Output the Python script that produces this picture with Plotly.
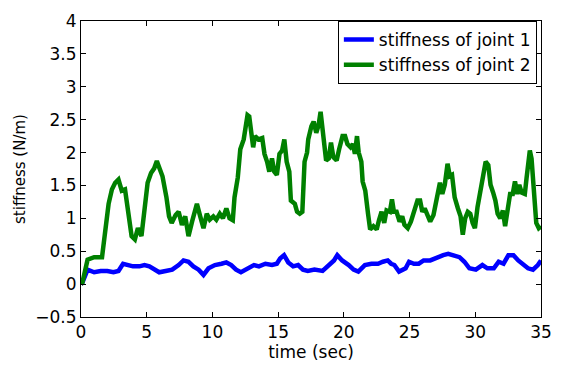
import plotly.graph_objects as go

# joint 1 stiffness (blue)
t1 = [0.0, 0.1, 0.5, 1.0, 1.5, 2.0, 2.47, 2.85, 3.2, 3.6, 3.96, 4.45, 4.83, 5.2, 5.57, 5.95,
      6.44, 6.94, 7.43, 7.8, 8.18, 8.55, 8.95, 9.32, 9.7, 10.19, 10.69, 11.06, 11.43, 11.8,
      12.17, 12.67, 13.16, 13.54, 14.03, 14.53, 14.9, 15.15, 15.45, 15.77, 16.14, 16.52,
      16.89, 17.26, 17.76, 18.38, 18.88, 19.25, 19.5, 19.87, 20.37, 20.74, 21.1, 21.6, 22.1,
      22.6, 22.97, 23.34, 23.6, 23.84, 24.2, 24.7, 24.96, 25.33, 25.7, 26.07, 26.57, 27.07,
      27.56, 27.94, 28.43, 28.8, 29.17, 29.55, 30.04, 30.54, 30.92, 31.41, 31.78, 32.15,
      32.52, 32.9, 33.27, 33.64, 34.01, 34.39, 34.76, 35.0]
k1 = [0.0, 0.02, 0.22, 0.18, 0.2, 0.2, 0.18, 0.2, 0.31, 0.29, 0.27, 0.27, 0.29, 0.27, 0.22, 0.18,
      0.2, 0.22, 0.29, 0.36, 0.34, 0.27, 0.22, 0.14, 0.24, 0.29, 0.31, 0.33, 0.29, 0.22,
      0.18, 0.24, 0.29, 0.27, 0.31, 0.29, 0.31, 0.39, 0.44, 0.33, 0.27, 0.29,
      0.22, 0.2, 0.22, 0.2, 0.29, 0.36, 0.44, 0.36, 0.29, 0.22, 0.19, 0.29, 0.31,
      0.31, 0.34, 0.36, 0.31, 0.29, 0.19, 0.24, 0.34, 0.31, 0.31, 0.36, 0.36, 0.41,
      0.44, 0.46, 0.44, 0.41, 0.34, 0.24, 0.22, 0.29, 0.24, 0.24, 0.34, 0.31,
      0.44, 0.44, 0.36, 0.31, 0.24, 0.22, 0.29, 0.36]

# joint 2 stiffness (green)
t2 = [0.0, 0.1, 0.5, 1.0, 1.6, 1.8, 2.1, 2.35, 2.6, 2.85, 3.1, 3.35, 3.6, 3.85, 4.1, 4.33, 4.6,
      4.83, 5.07, 5.33, 5.57, 5.77, 6.07, 6.2, 6.5, 6.7, 6.9, 7.2, 7.43, 7.68, 7.93, 8.18,
      8.45, 8.82, 9.07, 9.32, 9.57, 9.8, 10.07, 10.3, 10.56, 10.8, 11.06, 11.3, 11.55,
      11.68, 11.93, 12.12, 12.38, 12.55, 12.67, 12.8, 12.92, 13.1, 13.24, 13.49, 13.79,
      13.96, 14.16, 14.33, 14.53, 14.7, 14.9, 15.1, 15.3, 15.47, 15.65, 15.85, 15.97,
      16.27, 16.44, 16.64, 16.84, 16.89, 17.01, 17.2, 17.29, 17.53, 17.7, 17.9, 18.08,
      18.23, 18.4, 18.53, 18.65, 18.85, 19.02, 19.2, 19.45, 19.64, 19.9, 20.09, 20.27,
      20.51, 20.69, 20.84, 21.0, 21.13, 21.33, 21.43, 21.63, 21.84, 22.0, 22.25, 22.5,
      22.67, 22.87, 23.07, 23.25, 23.5, 23.66, 23.81, 24.01, 24.24, 24.44, 24.61, 24.86,
      25.1, 25.35, 25.6, 25.8, 25.97, 26.15, 26.32, 26.57, 26.82, 27.07, 27.31, 27.49,
      27.68, 27.89, 28.06, 28.23, 28.43, 28.68, 28.88, 29.05, 29.23, 29.43, 29.62, 29.8,
      29.97, 30.17, 30.42, 30.62, 30.79, 30.99, 31.16, 31.36, 31.53, 31.7, 31.9, 32.1,
      32.27, 32.44, 32.65, 32.85, 33.02, 33.2, 33.35, 33.53, 33.77, 33.9, 34.0, 34.15,
      34.28, 34.46, 34.64, 34.83, 35.0]
k2 = [0.0, 0.02, 0.37, 0.41, 0.41, 0.78, 1.22, 1.44, 1.54, 1.59, 1.42, 1.44, 1.12, 0.73, 0.68, 0.85, 0.73,
      1.17, 1.54, 1.69, 1.76, 1.87, 1.71, 1.64, 1.32, 1.03, 0.93, 1.05, 1.1, 0.9, 1.03, 0.73,
      0.95, 1.22, 1.03, 0.85, 1.07, 0.98, 1.03, 0.98, 1.07, 1.0, 1.15, 1.0, 0.97,
      1.32, 1.62, 2.05, 2.2, 2.37, 2.57, 2.55, 2.35, 2.08, 2.25, 2.2, 2.22,
      1.98, 1.86, 1.71, 1.91, 1.71, 1.66, 1.98, 2.03, 2.2, 1.86, 1.71, 1.27,
      1.22, 1.1, 1.07, 1.1, 1.47, 1.86, 2.0, 2.2, 2.4, 2.47, 2.3, 2.42,
      2.62, 2.35, 2.2, 1.88, 1.91, 2.15, 1.93, 1.88, 2.05, 2.25, 2.25, 2.13,
      2.08, 2.13, 1.98, 2.25, 2.0, 1.86, 1.56, 1.42, 1.07, 0.83, 0.88, 0.83,
      0.97, 1.1, 0.93, 1.12, 1.1, 1.29, 1.1, 1.1, 0.95, 1.03, 0.9, 0.85,
      0.95, 1.12, 1.27, 1.27, 1.1, 1.15, 1.05, 0.95, 1.05, 1.27, 1.54, 1.37,
      1.51, 1.83, 1.64, 1.66, 1.32, 1.15, 1.03, 0.75, 1.0, 1.1, 1.07, 0.93,
      0.85, 1.17, 1.42, 1.64, 1.86, 1.81, 1.51, 1.39, 1.27, 1.07, 1.0, 1.12,
      0.88, 1.1, 1.37, 1.37, 1.56, 1.37, 1.51, 1.39, 1.37, 1.61, 1.76, 2.03,
      1.91, 1.42, 0.93, 0.85, 0.88]

x_ticks = [0, 5, 10, 15, 20, 25, 30, 35]
y_ticks = [-0.5, 0, 0.5, 1, 1.5, 2, 2.5, 3, 3.5, 4]

fig = go.Figure()
fig.add_trace(go.Scatter(x=t1, y=k1, mode="lines", name="stiffness of joint 1",
                         line=dict(color="#0000ff", width=4.5)))
fig.add_trace(go.Scatter(x=t2, y=k2, mode="lines", name="stiffness of joint 2",
                         line=dict(color="#008000", width=4.5)))

FONT = "DejaVu Sans, Liberation Sans, Arial, sans-serif"
axis_common = dict(showline=True, linecolor="black", linewidth=1, mirror="ticks",
                   ticks="inside", ticklen=5, tickcolor="black", showgrid=False,
                   zeroline=False, tickfont=dict(size=17, color="black"))

fig.update_layout(
    width=563, height=365,
    margin=dict(l=81, r=12, t=11, b=48),
    paper_bgcolor="white", plot_bgcolor="white",
    font=dict(family=FONT, color="black"),
    xaxis=dict(range=[0, 35], tickvals=x_ticks,
               title=dict(text="time (sec)", font=dict(size=17), standoff=0),
               **axis_common),
    yaxis=dict(range=[-0.5, 4], tickvals=y_ticks,
               ticktext=[("\u22120.5" if v == -0.5 else f"{v:g}") for v in y_ticks],
               title=dict(text="stiffness (N/m)", font=dict(size=15), standoff=6),
               **axis_common),
    legend=dict(x=0.991, y=1.0, xanchor="right", yanchor="top",
                bgcolor="white", bordercolor="black", borderwidth=1,
                font=dict(size=17), tracegroupgap=0),
    showlegend=True,
)

fig.write_html("out.html")
